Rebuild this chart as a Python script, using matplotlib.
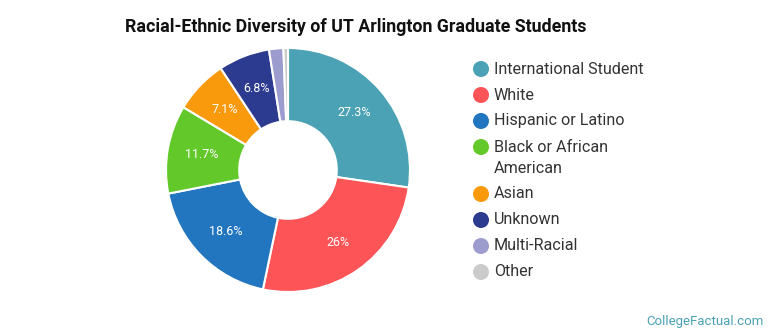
import numpy as np
import matplotlib.pyplot as plt
from matplotlib.patches import Circle

plt.rcParams['font.family'] = ['Roboto', 'DejaVu Sans']

groups = ['International Student', 'White', 'Hispanic or Latino',
          'Black or African\nAmerican', 'Asian', 'Unknown', 'Multi-Racial', 'Other']
shares = [27.3, 26.0, 18.6, 11.7, 7.1, 6.8, 1.9, 0.6]
colors = ['#4aa2b4', '#fc5457', '#2176bf', '#63c92b', '#f89a0c',
          '#2c3a8f', '#9c9ccf', '#cbcbcb']


def fmt(v):
    if v < 5:
        return ''
    s = f'{v:.1f}'
    return (s[:-2] if s.endswith('.0') else s) + '%'


fig = plt.figure(figsize=(7.7, 3.35), dpi=100)

# pixel-space overlay for title, legend, credit
bg = fig.add_axes([0, 0, 1, 1])
bg.set_xlim(0, 770)
bg.set_ylim(335, 0)
bg.axis('off')

ax = fig.add_axes([(288 - 122) / 770, (335 - 170 - 122) / 335, 244 / 770, 244 / 335])
wedges, _ = ax.pie(shares, colors=colors, startangle=90, counterclock=False,
                   wedgeprops=dict(width=0.6, edgecolor='white', linewidth=1.5))
ang = 90.0
for v in shares:
    mid = np.deg2rad(ang - v * 3.6 / 2)
    ang -= v * 3.6
    lab = fmt(v)
    if lab:
        ax.text(0.72 * np.cos(mid), 0.72 * np.sin(mid), lab, color='white',
                ha='center', va='center', fontsize=9)
ax.set_xlim(-1, 1)
ax.set_ylim(-1, 1)
ax.set_aspect('equal')
ax.axis('off')

bg.text(356, 27, 'Racial-Ethnic Diversity of UT Arlington Graduate Students',
        ha='center', va='center', fontsize=12.8, fontweight='bold', color='#111111')

# legend
y = 69
for name, c in zip(groups, colors):
    bg.add_patch(Circle((481, y), 8, color=c, lw=0))
    if '\n' in name:
        bg.text(494, y + 11, name, color='#333333', fontsize=11.6,
                ha='left', va='center', linespacing=1.5)
        y += 47
    else:
        bg.text(494, y, name, color='#333333', fontsize=11.6,
                ha='left', va='center')
        y += 26

bg.text(764, 321, 'CollegeFactual.com', color='#4aa2b4',
        fontsize=9.5, ha='right', va='center')

fig.savefig('out.png', dpi=100)
